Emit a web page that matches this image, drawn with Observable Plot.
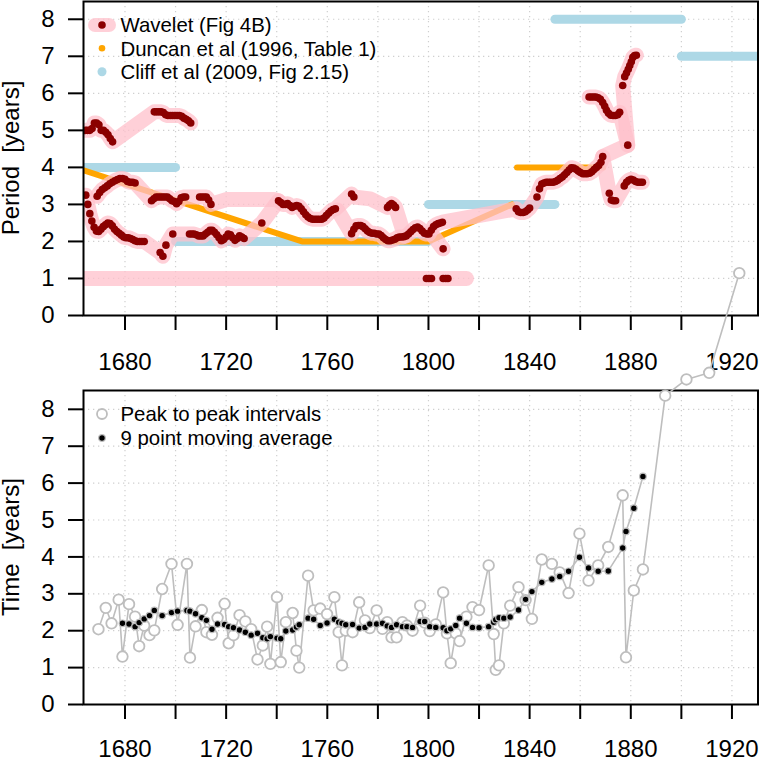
<!DOCTYPE html>
<html><head><meta charset="utf-8">
<script src="https://cdn.jsdelivr.net/npm/d3@7"></script>
<script src="https://cdn.jsdelivr.net/npm/@observablehq/plot@0.6"></script>
<style>
html,body{margin:0;padding:0;background:#fff;}
#wrap{position:relative;width:759px;height:759px;overflow:hidden;background:#fff;}
#top,#bottom{position:absolute;left:0;}
#top{top:0;} #bottom{top:380px;}
svg{overflow:visible;}
</style></head><body><div id="wrap"><div id="top"></div><div id="bottom"></div></div>
<script>
// ---------- axis ticks ----------
const xTicks = [1680,1700,1720,1740,1760,1780,1800,1820,1840,1860,1880,1900,1920];
const xLabels = [1680,1720,1760,1800,1840,1880,1920];
const yTicks = [0,1,2,3,4,5,6,7,8];

// ---------- top panel: Cliff et al (2009) epochs ----------
const cliffStart  = [1650, 1700, 1800, 1850, 1900];
const cliffEnd    = [1700, 1800, 1850, 1900, 1950];
const cliffPeriod = [4, 2, 3, 8, 7];

// ---------- top panel: Duncan et al (1996) ----------
const duncanTrendYear   = [1660, 1750, 1800, 1833];
const duncanTrendPeriod = [4, 2, 2, 3];
const duncanFlatYear    = [1835, 1869];
const duncanFlatPeriod  = [4, 4];

// ---------- top panel: wavelet ridges [year, period, dot shown] ----------
const ridgeA = [
[1664.3,5.0,1],[1665.2,5.0,1],[1666.1,5.0,1],[1667.0,5.05,1],[1667.9,5.2,1],[1668.8,5.2,1],[1669.7,5.15,1],[1670.6,5.0,1],[1671.5,5.0,1],[1672.4,4.95,1],[1673.3,4.88,1],[1674.2,4.78,1],[1675.1,4.69,1],
[1691.6,5.5,1],[1692.5,5.5,1],[1693.4,5.5,1],[1694.3,5.5,1],[1695.2,5.48,1],[1696.1,5.42,1],[1697.0,5.4,1],[1697.9,5.4,1],[1698.8,5.4,1],[1699.7,5.4,1],[1700.6,5.4,1],[1701.5,5.4,1],[1702.4,5.38,1],[1703.3,5.33,1],[1704.2,5.3,1],[1705.1,5.26,1],[1706.0,5.2,1]
];
const ridgeB = [
[1669.0,3.22,1],[1670.0,3.32,1],[1671.0,3.4,1],[1672.0,3.45,1],[1673.0,3.5,1],[1674.0,3.56,1],[1675.0,3.6,1],[1676.0,3.64,1],[1677.0,3.67,1],[1678.0,3.7,1],[1679.0,3.7,1],[1680.0,3.68,1],[1681.0,3.62,1],[1682.0,3.6,1],[1683.0,3.6,1],[1684.0,3.58,1],
[1690.5,3.1,1],[1691.4,3.15,1],[1692.3,3.2,1],[1693.2,3.2,1],[1694.1,3.2,1],[1695.0,3.2,1],[1695.9,3.2,1],[1696.8,3.2,1],[1697.7,3.15,1],[1698.6,3.1,1],[1699.5,3.08,1],[1700.4,3.02,1],[1701.3,3.08,1],[1702.2,3.18,1],[1703.1,3.2,1],[1704.0,3.2,1],
[1709.5,3.2,1],[1710.4,3.2,1],[1711.3,3.2,1],[1712.2,3.2,1],[1713.1,3.12,1],[1714.0,3.0,1],
[1720.0,3.13,0],[1739.0,3.13,0],
[1740.7,3.1,1],[1741.6,3.05,1],[1742.5,3.0,1],[1743.4,3.0,1],[1744.3,3.02,1],[1745.2,2.97,1],[1746.1,2.92,1],[1747.0,2.95,1],[1747.9,2.97,1],[1748.8,2.95,1],[1749.7,2.88,1],[1750.6,2.8,1],[1751.5,2.72,1],[1752.4,2.66,1],[1753.3,2.62,1],[1754.2,2.6,1],[1755.1,2.6,1],[1756.0,2.6,1],[1756.9,2.6,1],[1757.8,2.6,1],[1758.7,2.63,1],[1759.6,2.7,1],[1760.5,2.76,1],[1761.4,2.82,1],[1762.3,2.86,1],[1763.2,2.88,1],
[1769.6,3.28,1],[1770.5,3.2,1],
[1777.0,3.15,0],[1783.8,2.92,1],[1784.6,2.98,1],[1785.4,3.02,1],[1786.2,2.98,1],[1787.0,2.92,1],[1790.5,2.15,0]
];
const ridgeC = [
[1664.5,3.25,1],[1665.3,3.0,1],[1666.1,2.75,1],[1666.9,2.55,1],[1667.8,2.38,1],[1668.7,2.28,1],[1669.6,2.27,1],[1670.5,2.33,1],[1671.4,2.4,1],[1672.3,2.45,1],[1673.2,2.5,1],[1674.1,2.48,1],[1675.0,2.42,1],[1675.9,2.33,1],[1676.8,2.27,1],[1677.7,2.22,1],[1678.6,2.17,1],[1679.5,2.12,1],[1680.4,2.1,1],[1681.3,2.1,1],[1682.2,2.08,1],[1683.1,2.05,1],[1684.0,2.02,1],[1684.9,2.0,1],[1685.8,2.0,1],[1686.7,2.0,1],[1687.6,2.0,1],
[1693.9,1.7,1],[1695.0,1.6,1],[1696.2,1.9,1],[1698.9,2.2,1],
[1705.5,2.2,1],[1706.4,2.2,1],[1707.3,2.2,1],[1708.2,2.18,1],[1709.1,2.15,1],[1710.0,2.15,1],[1710.9,2.15,1],[1711.8,2.2,1],[1712.7,2.25,1],[1713.6,2.3,1],[1714.5,2.3,1],[1715.4,2.25,1],[1716.3,2.18,1],[1717.2,2.1,1],[1718.1,2.02,1],[1719.0,2.05,1],[1719.9,2.12,1],[1720.8,2.2,1],[1721.7,2.18,1],[1722.6,2.1,1],[1723.5,2.03,1],[1724.4,2.08,1],[1725.3,2.15,1],[1726.2,2.12,1],[1727.1,2.08,1],
[1734.1,2.5,1],[1740.7,3.1,0]
];
const ridgeD = [
[1764.0,2.85,0],[1769.6,2.21,1],[1770.5,2.33,1],[1771.4,2.42,1],[1772.3,2.43,1],[1773.2,2.43,1],[1774.1,2.4,1],[1775.0,2.34,1],[1775.9,2.28,1],[1776.8,2.24,1],[1777.7,2.22,1],[1778.6,2.22,1],[1779.5,2.2,1],[1780.4,2.2,1],[1781.3,2.16,1],[1782.2,2.1,1],[1783.1,2.05,1],[1784.0,2.02,1],[1784.9,2.02,1],[1785.8,2.04,1],[1786.7,2.06,1],[1787.6,2.1,1],[1788.5,2.12,1],[1789.4,2.12,1],[1790.3,2.13,1],[1791.2,2.15,1],[1792.1,2.2,1],[1793.0,2.26,1],[1793.9,2.32,1],[1794.8,2.37,1],[1795.7,2.39,1],[1796.6,2.35,1],[1797.5,2.28,1],[1798.4,2.22,1],[1799.3,2.2,1],[1800.2,2.2,1],[1801.1,2.3,1],[1802.0,2.4,1],[1802.9,2.45,1],[1803.8,2.48,1],[1804.7,2.5,1],[1805.5,2.52,1],
[1834.7,2.88,1],[1835.6,2.8,1],[1836.5,2.78,1],[1837.4,2.78,1],[1838.3,2.8,1],[1839.2,2.85,1],[1840.0,2.9,1],[1842.9,3.2,1],[1843.9,3.42,1],[1844.8,3.55,1],[1845.7,3.58,1],[1846.6,3.6,1],[1847.5,3.6,1],[1848.4,3.6,1],[1849.3,3.6,1],[1850.2,3.62,1],[1851.1,3.65,1],[1852.0,3.7,1],[1852.9,3.74,1],[1853.8,3.8,1],[1854.7,3.86,1],[1855.6,3.93,1],[1856.5,3.99,1],[1857.4,3.98,1],[1858.3,3.95,1],[1859.2,3.9,1],[1860.1,3.86,1],[1861.0,3.83,1],[1861.9,3.83,1],[1862.8,3.83,1],[1863.7,3.84,1],[1864.6,3.88,1],[1865.5,3.94,1],[1866.4,4.0,1],[1867.3,4.05,1],[1868.2,4.14,1],[1868.9,4.29,1],
[1878.8,4.6,1],[1876.8,6.21,1],[1877.6,6.45,1],[1878.3,6.55,1],[1879.0,6.65,1],[1879.6,6.75,1],[1880.2,6.85,1],[1880.8,6.97,1],[1881.5,7.02,1],[1882.2,7.03,1]
];
const ridgeE = [
[1863.5,5.9,1],[1864.4,5.9,1],[1865.3,5.9,1],[1866.2,5.9,1],[1867.1,5.88,1],[1868.0,5.84,1],[1868.9,5.75,1],[1869.7,5.65,1],[1870.4,5.54,1],[1871.2,5.46,1],[1872.1,5.41,1],[1873.0,5.4,1],[1873.9,5.4,1],[1874.8,5.42,1],[1875.6,5.49,1],[1878.8,4.6,0]
];
const ridgeF = [
[1868.9,4.29,0],[1871.5,3.3,1],[1872.3,3.12,1],[1873.1,3.1,1],[1874.0,3.1,1],[1877.4,3.5,1],[1878.3,3.6,1],[1879.2,3.65,1],[1880.1,3.68,1],[1881.0,3.66,1],[1881.9,3.62,1],[1882.8,3.6,1],[1883.7,3.6,1],[1884.6,3.6,1]
];
const ridgeG = [
[1655.0,1.0,0],[1799.2,1.0,1],[1800.2,1.0,1],[1801.2,1.0,1],[1805.8,1.0,1],[1806.8,1.0,1],[1807.7,1.0,1],[1815.0,1.0,0]
];
const ridgeH = [
[1800.8,2.25,0],[1805.8,1.8,1]
];

// ---------- bottom panel: peak to peak intervals ----------
const peakYear = [1669.5,1672.4,1674.7,1677.5,1679.0,1681.6,1684.0,1685.6,1687.6,1689.7,1691.6,1694.7,1698.4,1700.8,1704.5,1705.7,1707.9,1710.4,1712.2,1714.4,1716.6,1719.4,1721.0,1722.9,1725.3,1727.6,1729.9,1732.4,1734.5,1736.2,1737.5,1740.1,1741.6,1743.6,1746.3,1747.8,1748.9,1752.4,1754.6,1757.2,1759.9,1762.8,1764.5,1765.8,1767.3,1770.0,1772.6,1774.9,1776.8,1779.5,1781.8,1783.7,1785.4,1787.4,1789.7,1791.5,1793.7,1796.7,1798.5,1800.5,1802.9,1805.8,1807.3,1808.8,1810.8,1812.3,1815.0,1817.4,1820.0,1823.8,1825.8,1826.6,1827.9,1829.8,1832.3,1835.6,1838.4,1840.9,1844.8,1848.8,1851.9,1855.4,1859.7,1863.3,1867.1,1871.1,1876.8,1878.1,1881.2,1884.8,1893.6,1902.0,1911.0,1922.9];
const peakInterval = [2.04,2.62,2.20,2.84,1.30,2.72,2.38,1.58,2.14,1.88,2.01,3.13,3.81,2.16,3.81,1.27,2.12,2.56,1.96,1.89,2.35,2.73,1.66,1.88,2.42,2.25,2.04,1.22,1.60,2.11,1.10,2.91,1.15,2.23,2.48,1.46,1.00,3.49,2.55,2.60,2.45,2.91,1.96,1.06,2.00,1.96,2.77,2.28,2.07,2.55,2.05,2.23,1.82,1.82,2.23,2.14,2.00,2.68,2.22,1.99,2.17,3.04,1.93,1.12,1.93,1.72,2.38,2.64,2.56,3.77,1.91,0.94,1.06,2.20,2.68,3.18,2.83,2.32,3.93,3.81,3.58,3.02,4.63,3.36,3.77,4.27,5.67,1.28,3.09,3.66,8.37,8.81,8.99,11.69];
const movingAverage = [null,null,null,null,2.20,2.18,2.11,2.22,2.32,2.41,2.55,2.41,2.49,2.53,2.55,2.53,2.46,2.35,2.28,2.04,2.18,2.17,2.11,2.08,2.02,1.96,1.88,1.93,1.81,1.78,1.84,1.80,1.78,1.99,2.02,2.10,2.16,2.34,2.31,2.14,2.21,2.31,2.23,2.20,2.16,2.17,2.07,2.09,2.18,2.18,2.20,2.13,2.09,2.16,2.11,2.11,2.09,2.25,2.25,2.11,2.09,2.08,2.00,2.05,2.14,2.34,2.20,2.09,2.08,2.11,2.23,2.30,2.35,2.34,2.37,2.56,2.85,3.06,3.31,3.40,3.47,3.61,3.99,3.70,3.61,3.62,4.24,4.69,5.32,6.18,null,null,null,null];

// ---------- build tables ----------
const ridges = [ridgeA, ridgeB, ridgeC, ridgeD, ridgeE, ridgeF, ridgeG, ridgeH];
const ridgeRows = ridges.flatMap((r, k) => r.map(([year, period, dot]) => ({ridge: k, year, period, dot})));
const duncanRows = [
  ...duncanTrendYear.map((year, i) => ({seg: 0, year, period: duncanTrendPeriod[i]})),
  ...duncanFlatYear.map((year, i) => ({seg: 1, year, period: duncanFlatPeriod[i]}))
];
const cliffIdx = cliffStart.map((_, i) => i);
const peaks = peakYear.map((year, i) => ({year, interval: peakInterval[i], ma: movingAverage[i]}));
const maRows = peaks.filter(d => d.ma != null);

const FONT = "'Liberation Sans', Arial, Helvetica, sans-serif";
const xDomain = [1663.6, 1930.3];
const xFmt = d => xLabels.includes(d) ? String(d) : "";
const gridStyle = {stroke: "#cfcfcf", strokeOpacity: 1, strokeWidth: 1.2, strokeDasharray: "1.3,3.7"};

// ---------- top panel ----------
const topPlot = Plot.plot({
  width: 759, height: 380,
  marginLeft: 83, marginRight: 1.5, marginTop: 1, marginBottom: 65,
  style: {fontFamily: FONT, fontSize: "24px", background: "white", overflow: "visible"},
  x: {domain: xDomain},
  y: {domain: [0, 8.48]},
  marks: [
    Plot.gridX(xTicks, {...gridStyle}),
    Plot.gridY(yTicks, {...gridStyle}),
    Plot.link(cliffIdx, {x1: i => cliffStart[i], x2: i => cliffEnd[i], y1: i => cliffPeriod[i], y2: i => cliffPeriod[i],
      stroke: "lightblue", strokeWidth: 9, strokeLinecap: "round", clip: true}),
    Plot.line(duncanRows, {x: "year", y: "period", z: "seg", stroke: "orange", strokeWidth: 6,
      strokeLinecap: "round", strokeLinejoin: "round", clip: true}),
    Plot.line(ridgeRows, {x: "year", y: "period", z: "ridge", stroke: "pink", strokeOpacity: 0.75, strokeWidth: 15,
      strokeLinecap: "round", strokeLinejoin: "round", clip: true}),
    Plot.dot(ridgeRows.filter(d => d.dot), {x: "year", y: "period", r: 3.8, fill: "darkred", clip: true}),
    Plot.frame({stroke: "black", strokeWidth: 2}),
    Plot.axisX({ticks: xTicks, tickFormat: xFmt, tickSize: 15, tickPadding: 22, strokeWidth: 2, fontSize: 24, label: null}),
    Plot.axisY({ticks: yTicks, tickSize: 15, tickPadding: 14, strokeWidth: 2, fontSize: 24, label: null})
  ]
});

// ---------- bottom panel ----------
const botPlot = Plot.plot({
  width: 759, height: 379,
  marginLeft: 83, marginRight: 1.5, marginTop: 10, marginBottom: 55,
  style: {fontFamily: FONT, fontSize: "24px", background: "white", overflow: "visible"},
  x: {domain: xDomain},
  y: {domain: [0, 8.51]},
  marks: [
    Plot.gridX(xTicks, {...gridStyle}),
    Plot.gridY(yTicks, {...gridStyle}),
    Plot.frame({stroke: "black", strokeWidth: 2}),
    Plot.axisX({ticks: xTicks, tickFormat: xFmt, tickSize: 15, tickPadding: 20.5, strokeWidth: 2, fontSize: 24, label: null}),
    Plot.axisY({ticks: yTicks, tickSize: 15, tickPadding: 14, strokeWidth: 2, fontSize: 24, label: null}),
    Plot.line(peaks, {x: "year", y: "interval", stroke: "#bebebe", strokeWidth: 1.6}),
    Plot.dot(peaks, {x: "year", y: "interval", r: 5.3, fill: "white", stroke: "#bebebe", strokeWidth: 1.8}),
    Plot.line(maRows, {x: "year", y: "ma", stroke: "#bebebe", strokeWidth: 1.6}),
    Plot.dot(maRows, {x: "year", y: "ma", r: 3.3, fill: "black", stroke: "#bebebe", strokeWidth: 1.2})
  ]
});

document.getElementById("top").appendChild(topPlot);
document.getElementById("bottom").appendChild(botPlot);

// ---------- titles and legends ----------
function yTitle(svg, text, cy) {
  d3.select(svg).append("text")
    .attr("transform", `translate(19,${cy}) rotate(-90)`)
    .attr("text-anchor", "middle")
    .attr("font-family", FONT).attr("font-size", 24)
    .attr("fill", "black").style("white-space", "pre")
    .text(text);
}
yTitle(topPlot, "Period  [years]", 158);
yTitle(botPlot, "Time  [years]", 167);

function legendText(g, x, y, text) {
  g.append("text").attr("x", x).attr("y", y).attr("dy", "0.36em")
    .attr("text-anchor", "start")
    .attr("font-family", FONT).attr("font-size", 20.4).attr("fill", "black").text(text);
}
const lt = d3.select(topPlot).append("g").attr("text-anchor", "start");
lt.append("line").attr("x1", 95).attr("x2", 109).attr("y1", 25).attr("y2", 25)
  .attr("stroke", "pink").attr("stroke-opacity", 0.75).attr("stroke-width", 14).attr("stroke-linecap", "round");
lt.append("circle").attr("cx", 102).attr("cy", 25).attr("r", 3.8).attr("fill", "darkred");
legendText(lt, 120.5, 25, "Wavelet (Fig 4B)");
lt.append("circle").attr("cx", 102).attr("cy", 48.3).attr("r", 3.3).attr("fill", "orange");
legendText(lt, 120.5, 48.3, "Duncan et al (1996, Table 1)");
lt.append("circle").attr("cx", 102).attr("cy", 71.7).attr("r", 4.5).attr("fill", "lightblue");
legendText(lt, 120.5, 71.7, "Cliff et al (2009, Fig 2.15)");

const lb = d3.select(botPlot).append("g").attr("text-anchor", "start");
lb.append("circle").attr("cx", 102).attr("cy", 34).attr("r", 5).attr("fill", "white")
  .attr("stroke", "#bebebe").attr("stroke-width", 1.8);
legendText(lb, 120.5, 34, "Peak to peak intervals");
lb.append("circle").attr("cx", 102).attr("cy", 58).attr("r", 3.3).attr("fill", "black")
  .attr("stroke", "#bebebe").attr("stroke-width", 1.2);
legendText(lb, 120.5, 58, "9 point moving average");
</script></body></html>
